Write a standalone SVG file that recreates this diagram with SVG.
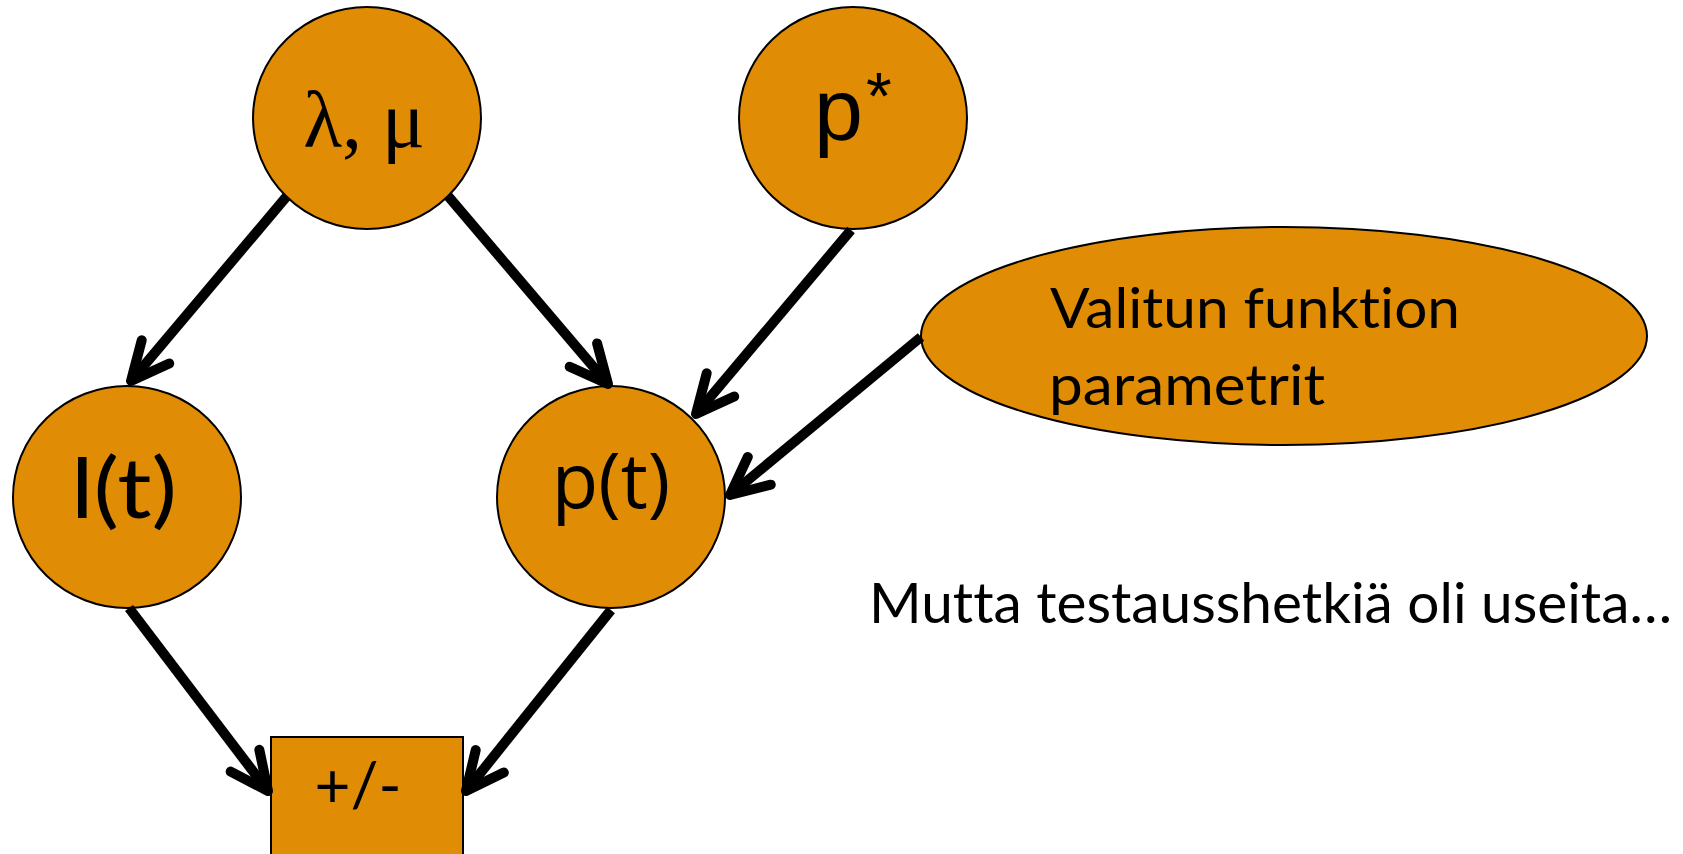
<svg xmlns="http://www.w3.org/2000/svg" width="1683" height="854" viewBox="0 0 1683 854">
  <style>
    .node { fill: #E08C04; stroke: #000; stroke-width: 2; }
    .lbl { fill: #000; font-family: Lato, "Open Sans", sans-serif; font-variant-ligatures: none; font-feature-settings: "liga" 0, "clig" 0; }
    .conn { fill: none; stroke: #000; stroke-width: 10; stroke-linecap: butt; }
  </style>
  <defs>
    <marker id="head" markerUnits="userSpaceOnUse" orient="auto" refX="0" refY="0" markerWidth="60" markerHeight="60" overflow="visible">
      <path d="M -38,-18 L 0,0 L -38,18" fill="none" stroke="#000" stroke-width="10" stroke-linecap="round" stroke-linejoin="round"/>
    </marker>
  </defs>
  <rect x="0" y="0" width="1683" height="854" fill="#fff"/>

  <g id="node-lambda-mu">
    <ellipse class="node" cx="367" cy="118" rx="114" ry="111"/>
    <text x="364" y="147" text-anchor="middle" font-family="'Liberation Serif', serif" font-size="80">λ, μ</text>
  </g>

  <g id="node-pstar">
    <ellipse class="node" cx="853" cy="118" rx="114" ry="111"/>
    <text x="814" y="140" font-family="'Liberation Sans', Arial, sans-serif" font-size="88">p<tspan x="866" y="119" font-size="66">*</tspan></text>
  </g>

  <g id="node-lt">
    <ellipse class="node" cx="127" cy="497" rx="114" ry="111"/>
    <text class="lbl" x="124" y="518" text-anchor="middle" font-size="84" textLength="106" lengthAdjust="spacingAndGlyphs">l(t)</text>
  </g>

  <g id="node-pt">
    <ellipse class="node" cx="611" cy="497" rx="114" ry="111"/>
    <text x="611" y="508" text-anchor="middle" font-family="'Open Sans', sans-serif" font-size="76">p(t)</text>
  </g>

  <g id="node-params">
    <ellipse class="node" cx="1284" cy="336" rx="363" ry="109"/>
    <text class="lbl" x="1050" y="328" font-size="56" textLength="410" lengthAdjust="spacingAndGlyphs">Valitun funktion</text>
    <text class="lbl" x="1049" y="405" font-size="56" textLength="276" lengthAdjust="spacingAndGlyphs">parametrit</text>
  </g>

  <g id="node-plusminus">
    <rect class="node" x="271" y="737" width="192" height="130"/>
    <text class="lbl" x="358" y="807" text-anchor="middle" font-size="62">+/-</text>
  </g>

  <g id="note">
    <text class="lbl" x="869" y="623" font-size="56" textLength="803" lengthAdjust="spacingAndGlyphs">Mutta testausshetkiä oli useita…</text>
  </g>

  <g id="connectors">
    <path class="conn" marker-end="url(#head)" d="M 287,196 L 131,381"/>
    <path class="conn" marker-end="url(#head)" d="M 448,196 L 608,384"/>
    <path class="conn" marker-end="url(#head)" d="M 851,230 L 696,414"/>
    <path class="conn" marker-end="url(#head)" d="M 921,337 L 730,495"/>
    <path class="conn" marker-end="url(#head)" d="M 129,608 L 268,791"/>
    <path class="conn" marker-end="url(#head)" d="M 611,610 L 466,791"/>
  </g>
</svg>
